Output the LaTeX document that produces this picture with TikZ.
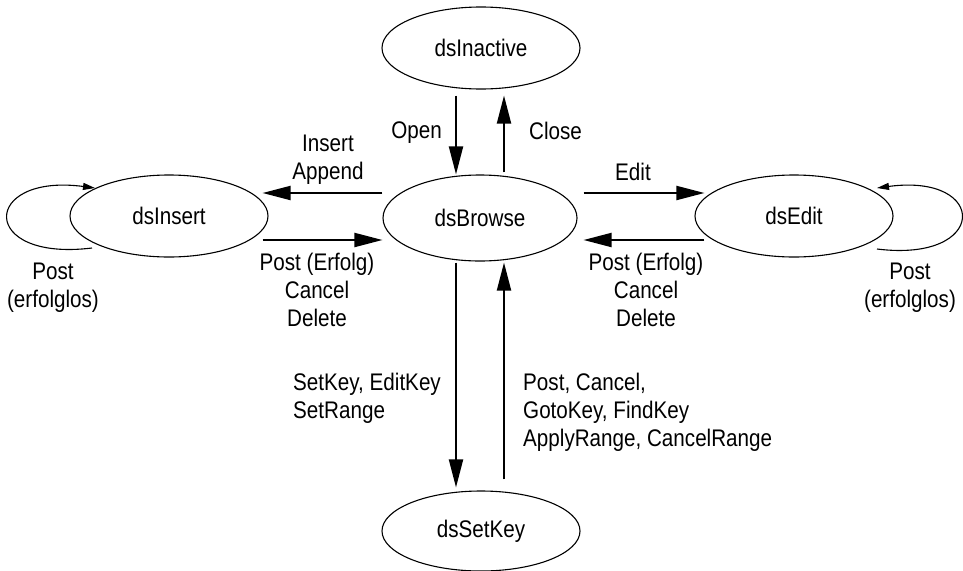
\documentclass[tikz,border=0pt]{standalone}
\usepackage{fontspec}
\setmainfont{Liberation Sans}[FakeStretch=0.86]
\usetikzlibrary{arrows.meta,calc,shapes.geometric}

\begin{document}
\begin{tikzpicture}[x=1pt,y=-1pt,
  state/.style={draw,ellipse,line width=1.1pt,minimum width=198pt,
    minimum height=82pt,inner sep=0pt,font=\fontsize{24}{28}\selectfont},
  trans/.style={line width=2pt,-{Triangle[length=28pt,width=14pt]}},
  selfloop/.style={line width=1.1pt,-{Triangle[length=12pt,width=7pt]}},
  lbl/.style={inner sep=0pt,align=center,font=\fontsize{24}{28}\selectfont}]

\useasboundingbox (0,0) rectangle (963,570);

% states of the dataset
\node[state] (ina) at (481,48)  {dsInactive};
\node[state,minimum width=194pt,minimum height=86pt] (brw) at (480,218) {dsBrowse};
\node[state] (ins) at (169,216) {dsInsert};
\node[state] (edt) at (794,216) {dsEdit};
\node[state,minimum height=80pt] (key) at (481,531) {dsSetKey};

% open / close
\draw[trans] ($(ina.south)+(-25,6)$) -- ($(brw.north)+(-24,0)$);
\draw[trans] ($(brw.north)+(24,-2)$) -- ($(ina.south)+(23,6)$);
\node[lbl,anchor=north east] (lopen) at (442,122) {Open};
\node[lbl,anchor=north west] (lclose) at (529,122) {Close};

% insert branch
\draw[trans] ($(brw.west)+(0,-25)$) -- ($(ins.east)+(-6,-23)$);
\draw[trans] ($(ins.east)+(-6,24)$) -- ($(brw.west)+(0,22)$);
\node[lbl,anchor=north] (lins) at (328,135) {Insert\\Append};
\node[lbl,anchor=north] (lpostl) at (317,253) {Post (Erfolg)\\Cancel\\Delete};

% edit branch
\draw[trans] ($(brw.east)+(6,-25)$) -- ($(edt.west)+(10,-23)$);
\draw[trans] ($(edt.west)+(10,24)$) -- ($(brw.east)+(6,22)$);
\node[lbl,anchor=north] (ledit) at (633,163) {Edit};
\node[lbl,anchor=north] (lpostr) at (646,253) {Post (Erfolg)\\Cancel\\Delete};

% failed posts stay in the same state
\draw[selfloop] ($(ins.center)+(-77,32)$) .. controls +(-114,14) and +(-114,-15) .. ($(ins.center)+(-74,-28)$);
\draw[selfloop] ($(edt.center)+(83,33)$) .. controls +(112,14) and +(112,-15) .. ($(edt.center)+(83,-28)$);
\node[lbl,anchor=north] (lfaill) at (53,263) {Post\\(erfolglos)};
\node[lbl,anchor=north] (lfailr) at (910,263) {Post\\(erfolglos)};

% key mode
\draw[trans] ($(brw.south)+(-24,1)$) -- ($(key.north)+(-25,-3)$);
\draw[trans] ($(key.north)+(23,-11)$) -- ($(brw.south)+(24,1)$);
\node[lbl,anchor=north west,align=left] (lsetkey) at (293,373) {SetKey, EditKey\\SetRange};
\node[lbl,anchor=north west,align=left] (lkeyback) at (523,373) {Post, Cancel,\\GotoKey, FindKey\\ApplyRange, CancelRange};

\end{tikzpicture}
\end{document}
